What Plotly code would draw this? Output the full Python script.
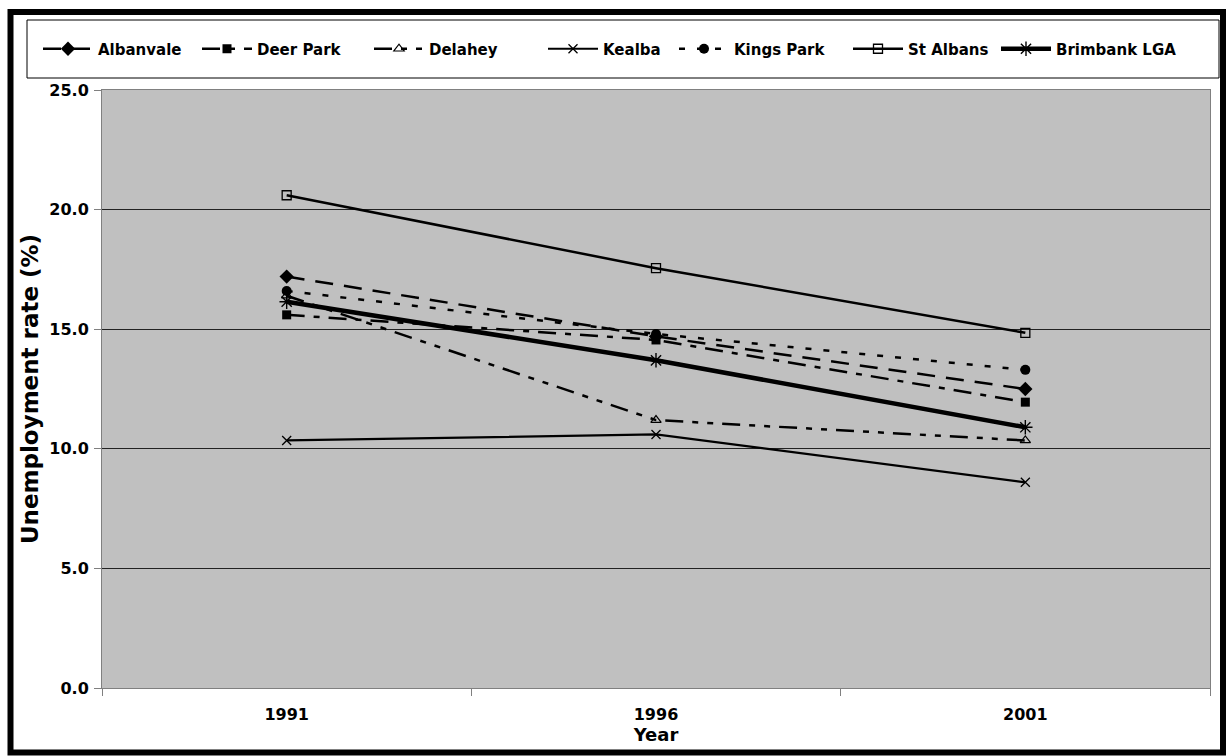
import plotly.graph_objects as go

# Census years and unemployment rates (%) by suburb
years = ["1991", "1996", "2001"]
albanvale = [17.2, 14.7, 12.5]
deer_park = [15.6, 14.55, 11.95]
delahey = [16.4, 11.2, 10.35]
kealba = [10.35, 10.6, 8.6]
kings_park = [16.6, 14.8, 13.3]
st_albans = [20.6, 17.55, 14.85]
brimbank = [16.15, 13.7, 10.9]

W, H = 1228, 756
L, R, T, B = 102, 18, 90, 68
PW, PH = W - L - R, H - T - B

FONT = "DejaVu Sans, Liberation Sans, Arial, sans-serif"
ITEM_W = 50

# name, values, line style, marker style, left pixel where the legend label starts
series = [
    ("Albanvale", albanvale, dict(width=2.5, dash="18px,11px"),
     dict(symbol="diamond", size=11), 98),
    ("Deer Park", deer_park, dict(width=2.5, dash="18px,9px,6px,9px"),
     dict(symbol="square", size=9), 257),
    ("Delahey", delahey, dict(width=2.5, dash="18px,9px,6px,9px,6px,9px"),
     dict(symbol="triangle-up-open", size=9, line=dict(width=1.2)), 429),
    ("Kealba", kealba, dict(width=2.2),
     dict(symbol="x-thin-open", size=9, line=dict(width=1.3)), 603),
    ("Kings Park", kings_park, dict(width=2.5, dash="6px,12px"),
     dict(symbol="circle", size=10), 734),
    ("St Albans", st_albans, dict(width=2.5),
     dict(symbol="square-open", size=9, line=dict(width=1.3)), 908),
    ("Brimbank LGA", brimbank, dict(width=4.5),
     dict(symbol="asterisk-open", size=12, line=dict(width=1.4)), 1056),
]


def px_x(p):
    return (p - L) / PW


def px_y(p):
    return (H - B - p) / PH


fig = go.Figure()
legends = {}
for i, (name, vals, line, marker, text_left) in enumerate(series):
    key = "legend" if i == 0 else f"legend{i + 1}"
    fig.add_trace(go.Scatter(
        x=years, y=vals, name=name, mode="lines+markers",
        line=dict(color="black", **line),
        marker=dict(color="black", **marker),
        legend=key,
    ))
    legends[key] = dict(
        orientation="h", x=px_x(text_left - ITEM_W - 10), y=px_y(49),
        xanchor="left", yanchor="middle",
        bgcolor="rgba(0,0,0,0)", borderwidth=0,
        font=dict(family=FONT, size=15, color="black", weight="bold"),
        itemwidth=ITEM_W,
    )

shapes = [
    # outer frame
    dict(type="rect", xref="paper", yref="paper",
         x0=px_x(10.5), x1=px_x(1223), y0=px_y(12), y1=px_y(752.5),
         line=dict(color="black", width=6), layer="above"),
    # legend box
    dict(type="rect", xref="paper", yref="paper",
         x0=px_x(27), x1=px_x(1219), y0=px_y(20), y1=px_y(78),
         line=dict(color="black", width=1)),
]

fig.update_layout(
    width=W, height=H,
    margin=dict(l=L, r=R, t=T, b=B, pad=0),
    paper_bgcolor="white",
    plot_bgcolor="#C0C0C0",
    font=dict(family=FONT, size=15, color="black"),
    shapes=shapes,
    showlegend=True,
    xaxis=dict(
        type="category", range=[-0.5, 2.5], tickson="boundaries",
        ticks="outside", ticklen=7, tickcolor="#808080",
        showline=True, linecolor="#808080", linewidth=1, mirror=True,
        showgrid=False,
        tickfont=dict(family=FONT, size=16, weight="bold"),
        ticklabelstandoff=12,
        title=dict(text="Year", standoff=0,
                   font=dict(family=FONT, size=18, weight="bold")),
    ),
    yaxis=dict(
        range=[0, 25], dtick=5, tickformat=".1f",
        ticks="outside", ticklen=7, tickcolor="#808080",
        showline=True, linecolor="#808080", linewidth=1, mirror=True,
        showgrid=True, gridcolor="#222222", gridwidth=1,
        zeroline=True, zerolinecolor="#333333", zerolinewidth=2,
        tickfont=dict(family=FONT, size=16, weight="bold"),
        ticklabelstandoff=2,
        title=dict(text="Unemployment rate (%)", standoff=4,
                   font=dict(family=FONT, size=23, weight="bold")),
    ),
)
fig.update_layout(**legends)

fig.write_html("out.html")
